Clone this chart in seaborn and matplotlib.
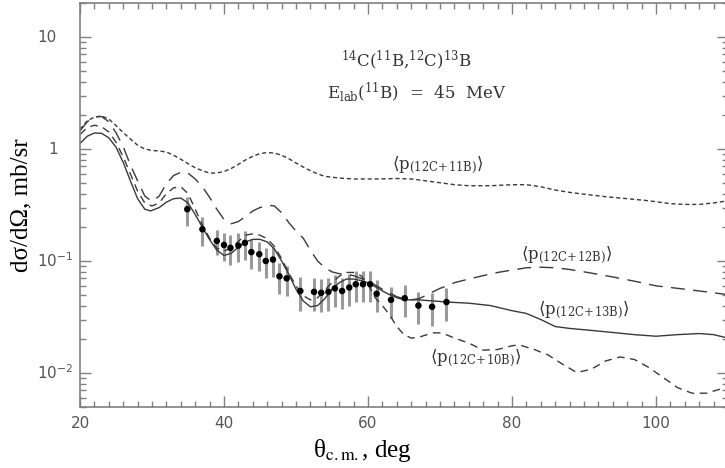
import numpy as np
import pandas as pd
import matplotlib
matplotlib.use("Agg")
import matplotlib.pyplot as plt
from matplotlib.ticker import MultipleLocator, LogLocator, NullFormatter
import seaborn as sns

# ==========================================
# data
# ==========================================
# <p(12C+13B)>  solid
theta_13b = [20, 21, 22, 23, 24, 25, 26, 27, 28, 29, 29.8, 31, 32, 33, 34, 35, 36, 37, 38, 39,
             40, 41, 42, 43, 44, 45, 46, 47, 48, 49, 50, 51, 52, 53, 54, 55, 56, 57, 58, 59,
             60, 61, 62, 63, 64, 65, 67, 69, 71, 74, 77, 80, 82, 84, 86, 88, 91, 94, 97, 100,
             103, 106, 108, 110]
xs_13b = [1.12, 1.30, 1.39, 1.38, 1.26, 1.04, 0.76, 0.52, 0.36, 0.29, 0.28, 0.30, 0.335, 0.36, 0.365,
          0.33, 0.26, 0.20, 0.155, 0.125, 0.112, 0.117, 0.133, 0.148, 0.156, 0.156, 0.148, 0.128,
          0.100, 0.076, 0.056, 0.044, 0.039, 0.040, 0.046, 0.056, 0.064, 0.069, 0.069, 0.067,
          0.064, 0.059, 0.054, 0.050, 0.047, 0.045, 0.045, 0.044, 0.043, 0.042, 0.040, 0.036,
          0.034, 0.030, 0.026, 0.025, 0.024, 0.023, 0.022, 0.0213, 0.022, 0.0225, 0.022, 0.0205]

# <p(12C+11B)>  short dashes
theta_11b = [20, 21, 22, 23, 24, 25, 26, 27, 28, 29, 30, 31, 32, 33, 34, 35, 36, 37, 38, 39,
             40, 41, 42, 43, 44, 45, 46, 47, 48, 49, 50, 51, 52, 53, 54, 56, 58, 61, 64, 66,
             68, 70, 72, 74, 77, 80, 82, 84, 86, 88, 90, 93, 96, 99, 102, 104, 106, 108, 110]
xs_11b = [1.50, 1.78, 1.93, 1.97, 1.85, 1.62, 1.40, 1.23, 1.08, 1.00, 0.97, 0.96, 0.94, 0.88, 0.81,
          0.74, 0.68, 0.64, 0.61, 0.61, 0.63, 0.67, 0.73, 0.80, 0.86, 0.91, 0.93, 0.92, 0.88,
          0.82, 0.75, 0.69, 0.64, 0.60, 0.57, 0.55, 0.54, 0.54, 0.545, 0.54, 0.52, 0.50, 0.48,
          0.47, 0.47, 0.48, 0.48, 0.46, 0.43, 0.41, 0.395, 0.375, 0.36, 0.345, 0.325, 0.32,
          0.32, 0.33, 0.345]

# <p(12C+12B)>  long dashes
theta_12b = [20, 21, 22, 23, 24, 25, 26, 27, 28, 29, 30, 31, 32, 33, 34, 35, 36, 37, 38, 39,
             40, 41, 42, 43, 44, 45, 46, 47, 48, 49, 50, 51, 52, 53, 54, 55, 56, 57, 58, 59,
             60, 61, 62, 63, 64, 65, 66, 67, 68, 69, 70, 71, 72, 74, 76, 78, 80, 82, 84, 86,
             88, 90, 92, 94, 96, 98, 100, 102, 104, 106, 108, 110]
xs_12b = [1.45, 1.75, 1.93, 1.95, 1.75, 1.40, 1.05, 0.72, 0.52, 0.38, 0.34, 0.38, 0.49, 0.58, 0.62,
          0.61, 0.54, 0.46, 0.37, 0.29, 0.235, 0.215, 0.225, 0.25, 0.28, 0.30, 0.315, 0.31,
          0.27, 0.22, 0.185, 0.16, 0.125, 0.10, 0.087, 0.080, 0.077, 0.076, 0.074, 0.070,
          0.066, 0.061, 0.056, 0.052, 0.048, 0.046, 0.045, 0.046, 0.049, 0.053, 0.057, 0.060,
          0.064, 0.069, 0.074, 0.079, 0.083, 0.087, 0.088, 0.087, 0.084, 0.080, 0.076, 0.072,
          0.068, 0.064, 0.060, 0.058, 0.056, 0.054, 0.052, 0.050]

# <p(12C+10B)>  medium dashes
theta_10b = [20, 21, 22, 23, 24, 25, 26, 27, 28, 29, 30, 31, 32, 33, 34, 35, 36, 37, 38, 39,
             40, 41, 42, 43, 44, 45, 46, 47, 48, 49, 50, 51, 52, 53, 54, 55, 56, 57, 58, 59,
             60, 61, 62, 63, 64, 65, 66, 67, 68, 69, 70, 71, 72, 74, 76, 78, 80, 81, 83, 85,
             87, 89, 91, 93, 95, 97, 99, 101, 103, 105, 107, 109, 110]
xs_10b = [1.35, 1.55, 1.63, 1.58, 1.42, 1.15, 0.85, 0.60, 0.42, 0.33, 0.31, 0.33, 0.40, 0.45, 0.46,
          0.40, 0.29, 0.21, 0.16, 0.13, 0.123, 0.13, 0.15, 0.17, 0.175, 0.17, 0.158, 0.135,
          0.105, 0.078, 0.060, 0.049, 0.045, 0.047, 0.055, 0.064, 0.073, 0.079, 0.079, 0.074,
          0.062, 0.047, 0.040, 0.033, 0.026, 0.022, 0.0205, 0.0208, 0.0218, 0.0228, 0.0228,
          0.0218, 0.0205, 0.0185, 0.016, 0.0162, 0.0175, 0.0178, 0.0163, 0.0145, 0.012, 0.0101,
          0.0108, 0.0128, 0.0139, 0.0132, 0.0112, 0.0091, 0.0074, 0.0066, 0.0066, 0.0072, 0.0076]

# measured points with error bars
theta_exp = [34.9, 37.0, 39.0, 40.0, 40.9, 42.0, 42.9, 43.8, 44.9, 45.8, 46.8, 47.7, 48.7, 50.6,
             52.5, 53.5, 54.5, 55.4, 56.4, 57.4, 58.3, 59.3, 60.3, 61.2, 63.2, 65.1, 67.0, 68.9, 70.9]
xs_exp = [0.29, 0.192, 0.151, 0.139, 0.131, 0.137, 0.145, 0.120, 0.115, 0.100, 0.103, 0.073, 0.070,
          0.054, 0.053, 0.052, 0.053, 0.057, 0.054, 0.058, 0.062, 0.062, 0.062, 0.051, 0.045,
          0.0465, 0.040, 0.039, 0.043]
err_exp = [0.085, 0.055, 0.038, 0.040, 0.038, 0.040, 0.042, 0.036, 0.034, 0.030, 0.031, 0.022, 0.021,
           0.018, 0.017, 0.017, 0.017, 0.018, 0.017, 0.018, 0.019, 0.019, 0.019, 0.016, 0.014,
           0.015, 0.0125, 0.0125, 0.014]

y_tick_vals = [10, 1, 0.1, 0.01]
y_tick_text = ["10", "1", r"$10^{-1}$", r"$10^{-2}$"]

curve_labels = [r"$\langle \mathrm{p}_{\mathrm{(12C\!+\!11B)}} \rangle$",
                r"$\langle \mathrm{p}_{\mathrm{(12C\!+\!12B)}} \rangle$",
                r"$\langle \mathrm{p}_{\mathrm{(12C\!+\!13B)}} \rangle$",
                r"$\langle \mathrm{p}_{\mathrm{(12C\!+\!10B)}} \rangle$"]
label_x = [69.7, 87.6, 89.9, 75.0]
label_y = [0.72, 0.113, 0.0365, 0.0136]

# ==========================================
# style
# ==========================================
sns.set_theme(style="ticks")
plt.rcParams['font.family'] = ['DejaVu Sans']
plt.rcParams['mathtext.fontset'] = 'stix'

AXIS_GRAY = '#808080'
LINE_COL = '#3a3a3a'
TEXT_COL = '#333333'

fig = plt.figure(figsize=(7.25, 4.68), dpi=100)
ax = fig.add_axes([80 / 725, 61.3 / 468, 648 / 725, 403.4 / 468])

# error bars first so the curves sit on top
ax.errorbar(theta_exp, xs_exp, yerr=err_exp, fmt='none', ecolor='#9a9a9a',
            elinewidth=2.2, capsize=0, zorder=1)

sns.lineplot(x=theta_11b, y=xs_11b, ax=ax, color=LINE_COL, lw=1.0,
             linestyle=(0, (3, 2)), zorder=2)
sns.lineplot(x=theta_12b, y=xs_12b, ax=ax, color=LINE_COL, lw=1.0,
             linestyle=(0, (10, 6)), zorder=2)
sns.lineplot(x=theta_10b, y=xs_10b, ax=ax, color=LINE_COL, lw=1.0,
             linestyle=(0, (5.5, 4)), zorder=2)
sns.lineplot(x=theta_13b, y=xs_13b, ax=ax, color=LINE_COL, lw=1.0, zorder=2)

sns.scatterplot(x=theta_exp, y=xs_exp, ax=ax, color='black', s=22,
                edgecolor='none', zorder=4)

# axes
ax.set_yscale('log')
ax.set_xlim(20, 110)
ax.set_ylim(0.005, 20)
ax.xaxis.set_major_locator(MultipleLocator(20))
ax.xaxis.set_minor_locator(MultipleLocator(2))
ax.yaxis.set_major_locator(LogLocator(base=10, numticks=10))
ax.yaxis.set_minor_locator(LogLocator(base=10, subs=np.arange(2, 10), numticks=20))
ax.yaxis.set_minor_formatter(NullFormatter())
ax.tick_params(which='both', direction='in', top=True, right=True,
               color=AXIS_GRAY, width=1.0)
ax.tick_params(which='major', length=8)
ax.tick_params(which='minor', length=4.5)
ax.tick_params(axis='x', labelsize=11, labelcolor='#555555', pad=7)
ax.tick_params(axis='y', labelleft=False)
for s in ax.spines.values():
    s.set_color(AXIS_GRAY)
    s.set_linewidth(1.2)

# y tick labels written next to the axis
ytr = ax.get_yaxis_transform()
for v, t in zip(y_tick_vals, y_tick_text):
    xpos = -0.049 if t == "1" else -0.066
    ax.text(xpos, v, t, transform=ytr, ha='left', va='center', fontsize=11,
            color='#555555', math_fontfamily='dejavusans')

ax.set_xlabel("θ$_{\\rm c.m.}$, deg", fontsize=18, family='Liberation Serif',
              color='black', math_fontfamily='stix')
ax.xaxis.set_label_coords(0.435, -0.075)
ax.set_ylabel("dσ/dΩ, mb/sr", fontsize=18, family='Liberation Serif', color='black')
ax.yaxis.set_label_coords(-0.074, 0.5)

# annotations
serif = dict(family='DejaVu Serif', math_fontfamily='dejavuserif', color=TEXT_COL,
             ha='center', va='center')
ax.text(65.4, 6.2, r"$^{14}$C($^{11}$B,$^{12}$C)$^{13}$B", fontsize=12, **serif)
ax.text(66.7, 3.2, r"E$_{\rm lab}$($^{11}$B)  =  45  MeV", fontsize=12, **serif)
for lx, ly, lt in zip(label_x, label_y, curve_labels):
    ax.text(lx, ly, lt, fontsize=12, **serif)

fig.savefig('out.png', dpi=100)
plt.close(fig)
